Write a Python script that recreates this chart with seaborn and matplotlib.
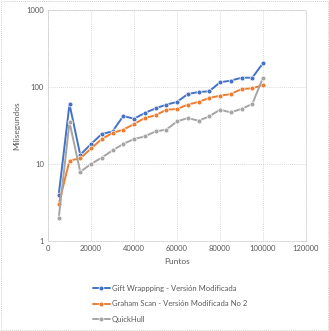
import pandas as pd
import numpy as np
import matplotlib
matplotlib.use("Agg")
import matplotlib.pyplot as plt
import seaborn as sns
from matplotlib.ticker import FixedLocator, FixedFormatter

puntos = [5000, 10000, 15000, 20000, 25000, 30000, 35000, 40000, 45000, 50000,
          55000, 60000, 65000, 70000, 75000, 80000, 85000, 90000, 95000, 100000]

gift_wrapping = [4.0, 60, 13.1, 18.2, 24.5, 26.5, 42, 38.7, 46, 52.7,
                 59, 64, 81, 86, 88, 115, 121, 132, 132, 204]
graham_scan = [3.0, 11.1, 11.8, 15.9, 21.1, 25.3, 27.9, 33, 39.6, 42.8,
               50.7, 51.8, 59, 64, 72, 77, 81, 94, 96, 106]
quickhull = [2.0, 35, 7.9, 10, 12.1, 15, 18.2, 21.1, 22.8, 26.5,
             27.9, 35.7, 39.5, 36.5, 41.5, 50.7, 46.8, 52, 60, 132]

series_names = ["Gift Wrappping - Versión Modificada",
                "Graham Scan - Versión Modificada No 2",
                "QuickHull"]
colors = ["#4472C4", "#ED7D31", "#A5A5A5"]

x_ticks = [0, 20000, 40000, 60000, 80000, 100000, 120000]
y_ticks = [1, 10, 100, 1000]


def main():
    df = pd.DataFrame({
        "Puntos": puntos * 3,
        "ms": gift_wrapping + graham_scan + quickhull,
        "Algoritmo": np.repeat(series_names, len(puntos)),
    })

    sns.set_style("white")
    plt.rcParams["font.family"] = ["Lato", "DejaVu Sans"]
    text_color = "#595959"

    fig = plt.figure(figsize=(3.29, 3.31), dpi=100)
    ax = fig.add_axes([48 / 329, 1 - 241 / 331, (306 - 48) / 329, (241 - 10) / 331])

    sns.lineplot(data=df, x="Puntos", y="ms", hue="Algoritmo", style="Algoritmo",
                 palette=colors, markers=["o", "o", "o"], dashes=False,
                 markersize=3.5, linewidth=1.4, markeredgewidth=0.5,
                 ax=ax, legend=True)

    ax.set_yscale("log")
    ax.set_xlim(0, 120000)
    ax.set_ylim(1, 1000)
    ax.xaxis.set_major_locator(FixedLocator(x_ticks))
    ax.xaxis.set_major_formatter(FixedFormatter([str(t) for t in x_ticks]))
    ax.yaxis.set_major_locator(FixedLocator(y_ticks))
    ax.yaxis.set_major_formatter(FixedFormatter([str(t) for t in y_ticks]))
    ax.yaxis.set_minor_locator(FixedLocator([]))

    ax.grid(True, which="major", color="#cccccc", linestyle=(0, (1, 1.5)), linewidth=0.6)
    for s in ax.spines.values():
        s.set_color("#cccccc")
        s.set_linestyle((0, (1, 1.5)))
        s.set_linewidth(0.6)
    ax.tick_params(axis="both", length=0, labelsize=5.5, colors=text_color, pad=3)

    ax.set_xlabel("Puntos", fontsize=6, color=text_color, labelpad=4)
    ax.set_ylabel("Milisegundos", fontsize=6, color=text_color, labelpad=4)

    handles, labels = ax.get_legend_handles_labels()
    ax.legend_.remove()
    fig.legend(handles, labels, loc="upper left", bbox_to_anchor=(89 / 329, 1 - 281 / 331),
               frameon=False, fontsize=5.5, labelcolor=text_color, handlelength=2.2,
               handletextpad=0.3, labelspacing=1.1, borderpad=0)

    # dotted border round the whole chart
    border = plt.Rectangle((0.003, 0.003), 0.994, 0.994, transform=fig.transFigure,
                           fill=False, edgecolor="#bfbfbf", linestyle=(0, (1, 1.5)),
                           linewidth=0.6)
    fig.patches.append(border)

    fig.savefig("out.png", dpi=100)
    plt.close(fig)


if __name__ == "__main__":
    main()
